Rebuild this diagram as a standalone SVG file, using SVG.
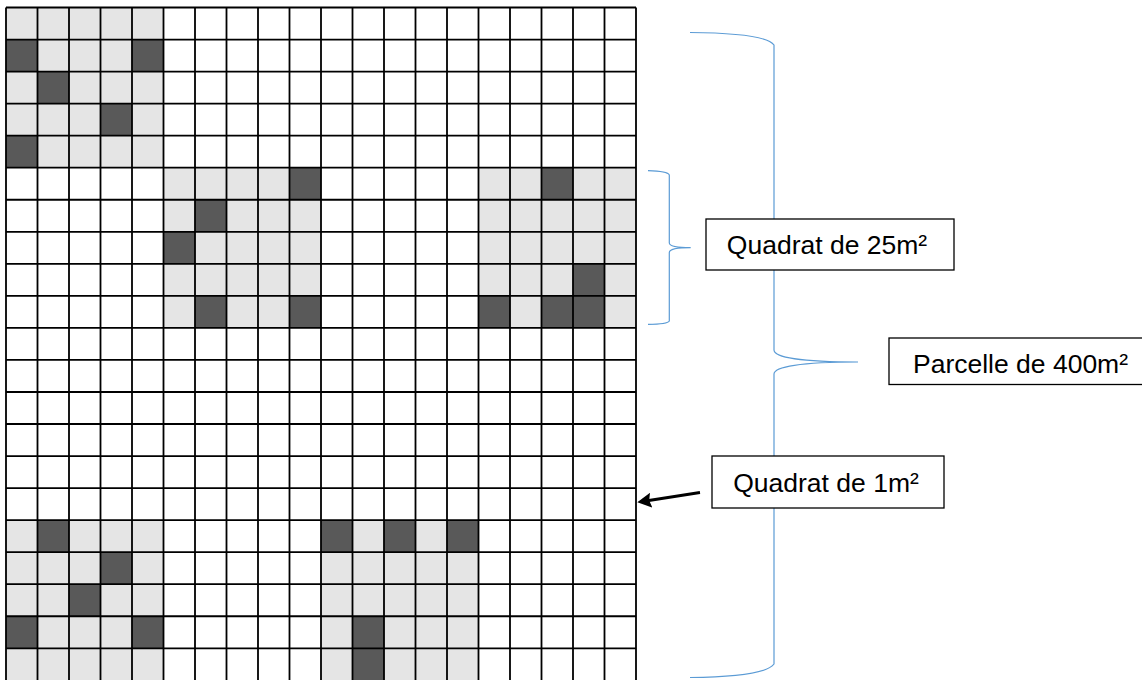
<svg xmlns="http://www.w3.org/2000/svg" width="1142" height="680" viewBox="0 0 1142 680">
<defs>
<style>
.light{fill:#e5e5e5}
.dark{fill:#595959}
.grid{fill:none;stroke:#000;stroke-width:1.8}
.brace{fill:none;stroke:#5b9bd5;stroke-width:1.2}
.box{fill:#fff;stroke:#000;stroke-width:1.3}
.lbl{font-family:"Liberation Sans",Arial,sans-serif;font-size:26.5px;fill:#000;text-anchor:middle}
.arrow{stroke:#000;stroke-width:3;fill:none}
</style>
<marker id="ah" viewBox="0 0 14 15" refX="4" refY="7.5" markerWidth="14" markerHeight="15" markerUnits="userSpaceOnUse" orient="auto">
<path d="M0,0 L14,7.5 L0,15 L2,7.5 Z" fill="#000"/>
</marker>
</defs>
<rect width="1142" height="680" fill="#fff"/>
<g id="quadrats25">
<g id="qA">
<rect class="light" x="6" y="7.5" width="157.5" height="160.2"/>
<rect class="dark" x="6" y="39.54" width="31.5" height="32.04"/>
<rect class="dark" x="132" y="39.54" width="31.5" height="32.04"/>
<rect class="dark" x="37.5" y="71.58" width="31.5" height="32.04"/>
<rect class="dark" x="100.5" y="103.62" width="31.5" height="32.04"/>
<rect class="dark" x="6" y="135.66" width="31.5" height="32.04"/>
</g>
<g id="qB">
<rect class="light" x="163.5" y="167.7" width="157.5" height="160.2"/>
<rect class="dark" x="289.5" y="167.7" width="31.5" height="32.04"/>
<rect class="dark" x="195" y="199.74" width="31.5" height="32.04"/>
<rect class="dark" x="163.5" y="231.78" width="31.5" height="32.04"/>
<rect class="dark" x="195" y="295.86" width="31.5" height="32.04"/>
<rect class="dark" x="289.5" y="295.86" width="31.5" height="32.04"/>
</g>
<g id="qC">
<rect class="light" x="478.5" y="167.7" width="157.5" height="160.2"/>
<rect class="dark" x="541.5" y="167.7" width="31.5" height="32.04"/>
<rect class="dark" x="573" y="263.82" width="31.5" height="32.04"/>
<rect class="dark" x="478.5" y="295.86" width="31.5" height="32.04"/>
<rect class="dark" x="541.5" y="295.86" width="31.5" height="32.04"/>
<rect class="dark" x="573" y="295.86" width="31.5" height="32.04"/>
</g>
<g id="qD">
<rect class="light" x="6" y="520.14" width="157.5" height="160.2"/>
<rect class="dark" x="37.5" y="520.14" width="31.5" height="32.04"/>
<rect class="dark" x="100.5" y="552.18" width="31.5" height="32.04"/>
<rect class="dark" x="69" y="584.22" width="31.5" height="32.04"/>
<rect class="dark" x="6" y="616.26" width="31.5" height="32.04"/>
<rect class="dark" x="132" y="616.26" width="31.5" height="32.04"/>
</g>
<g id="qE">
<rect class="light" x="321" y="520.14" width="157.5" height="160.2"/>
<rect class="dark" x="321" y="520.14" width="31.5" height="32.04"/>
<rect class="dark" x="384" y="520.14" width="31.5" height="32.04"/>
<rect class="dark" x="447" y="520.14" width="31.5" height="32.04"/>
<rect class="dark" x="352.5" y="616.26" width="31.5" height="32.04"/>
<rect class="dark" x="352.5" y="648.3" width="31.5" height="32.04"/>
</g>
</g>
<g id="grid">
<path class="grid" d="M6,7.5V681 M37.5,7.5V681 M69,7.5V681 M100.5,7.5V681 M132,7.5V681 M163.5,7.5V681 M195,7.5V681 M226.5,7.5V681 M258,7.5V681 M289.5,7.5V681 M321,7.5V681 M352.5,7.5V681 M384,7.5V681 M415.5,7.5V681 M447,7.5V681 M478.5,7.5V681 M510,7.5V681 M541.5,7.5V681 M573,7.5V681 M604.5,7.5V681 M636,7.5V681"/>
<path class="grid" d="M6,7.5H636 M6,39.54H636 M6,71.58H636 M6,103.62H636 M6,135.66H636 M6,167.7H636 M6,199.74H636 M6,231.78H636 M6,263.82H636 M6,295.86H636 M6,327.9H636 M6,359.94H636 M6,391.98H636 M6,424.02H636 M6,456.06H636 M6,488.1H636 M6,520.14H636 M6,552.18H636 M6,584.22H636 M6,616.26H636 M6,648.3H636"/>
</g>
<g id="connectors">
<path id="brace-parcelle" class="brace" d="M690,32.5 C745,33 769,38 774,45 L774,350 C774,357 800,362 858,362 C800,362 774,367 774,374 L774,664 C769,671 745,677 690,677.5"/>
<path id="brace-quadrat25" class="brace" d="M648,170.7 C660,171 668,172 669.3,175 L669.3,243 C669.5,246.5 676,247.7 690.7,247.7 C676,247.7 669.5,249 669.3,252.5 L669.3,321 C668,323.5 660,324.3 648,324.3"/>
<line id="arrow-1m" class="arrow" x1="700" y1="492.5" x2="647.2" y2="500.8" marker-end="url(#ah)"/>
</g>
<g id="label-25">
<rect class="box" x="706" y="219" width="248" height="51"/>
<text class="lbl" x="827" y="254">Quadrat de 25m²</text>
</g>
<g id="label-400">
<rect class="box" x="889" y="338" width="264" height="46.5"/>
<text class="lbl" x="1020.5" y="372.7">Parcelle de 400m²</text>
</g>
<g id="label-1">
<rect class="box" x="712" y="456" width="232" height="52"/>
<text class="lbl" x="826" y="491.7">Quadrat de 1m²</text>
</g>
</svg>
